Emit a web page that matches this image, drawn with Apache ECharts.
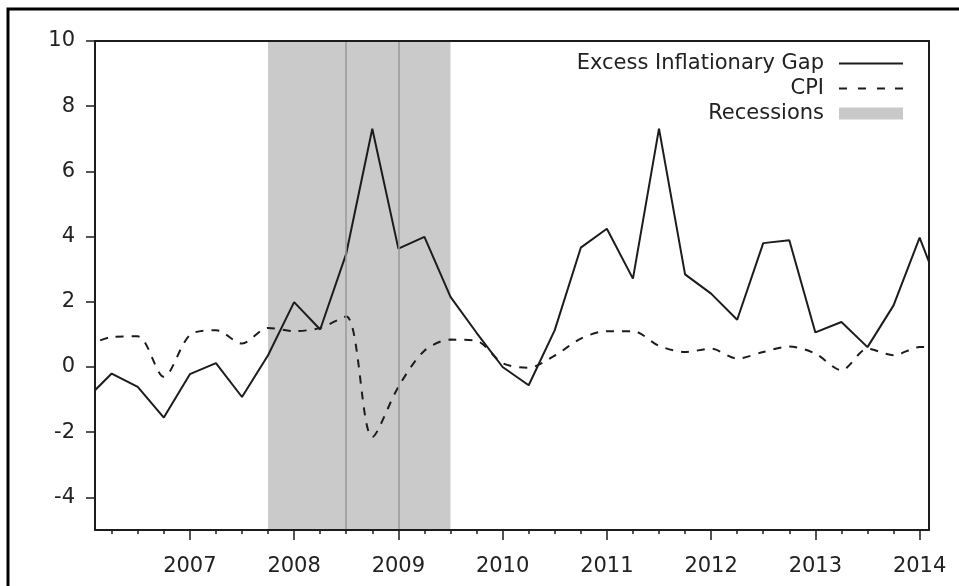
<!DOCTYPE html>
<html>
<head>
<meta charset="utf-8">
<script src="https://cdn.jsdelivr.net/npm/echarts@6/dist/echarts.min.js"></script>
<style>
  html, body { margin: 0; padding: 0; background: #fff; }
  #main { width: 959px; height: 586px; }
</style>
</head>
<body>
<div id="main"></div>
<script>
// quarterly dates (decimal years)
var quarters = [2006.0, 2006.25, 2006.5, 2006.75, 2007.0, 2007.25, 2007.5, 2007.75,
  2008.0, 2008.25, 2008.5, 2008.75, 2009.0, 2009.25, 2009.5, 2009.75,
  2010.0, 2010.25, 2010.5, 2010.75, 2011.0, 2011.25, 2011.5, 2011.75,
  2012.0, 2012.25, 2012.5, 2012.75, 2013.0, 2013.25, 2013.5, 2013.75,
  2014.0, 2014.25];

var gapValues = [-1.0, -0.20, -0.61, -1.55, -0.22, 0.12, -0.92, 0.36,
  1.99, 1.15, 3.48, 7.31, 3.63, 3.99, 2.15, 1.05,
  0.0, -0.56, 1.13, 3.66, 4.24, 2.71, 7.31, 2.84,
  2.25, 1.45, 3.80, 3.89, 1.06, 1.38, 0.61, 1.89,
  3.97, 1.9];

var cpiValues = [0.61, 0.92, 0.94, -0.30, 0.98, 1.13, 0.72, 1.2,
  1.1, 1.2, 1.55, -2.15, -0.61, 0.5, 0.84, 0.8,
  0.12, -0.02, 0.35, 0.87, 1.1, 1.1, 0.65, 0.46,
  0.56, 0.26, 0.46, 0.63, 0.41, -0.1, 0.56, 0.36,
  0.61, 0.61];

var recessions = [[2007.75, 2009.5]];
var recessionLines = [2008.5, 2009.0];

var yTicks = [-4, -2, 0, 2, 4, 6, 8, 10];
var yearTicks = [2007, 2008, 2009, 2010, 2011, 2012, 2013, 2014];
var quarterTicks = [2006.25, 2006.5, 2006.75, 2007, 2007.25, 2007.5, 2007.75,
  2008, 2008.25, 2008.5, 2008.75, 2009, 2009.25, 2009.5, 2009.75,
  2010, 2010.25, 2010.5, 2010.75, 2011, 2011.25, 2011.5, 2011.75,
  2012, 2012.25, 2012.5, 2012.75, 2013, 2013.25, 2013.5, 2013.75, 2014];

var xMin = 2006.09, xMax = 2014.09;
var font = 'DejaVu Sans';
var ink = '#1c1c1c';

// legend glyphs: a plain line and a dashed line
var solidIcon = 'path://M0,5h64v2h-64z';
var dashIcon = 'path://M0,5h8v2h-8z M19,5h8v2h-8z M38,5h8v2h-8z M56,5h8v2h-8z';

function pairs(xs, ys) {
    return xs.map(function (x, i) { return [x, ys[i]]; });
}

var chart = echarts.init(document.getElementById('main'));

chart.setOption({
    animation: false,
    backgroundColor: '#fff',
    graphic: [{
        type: 'rect',
        shape: { x: 8, y: 9, width: 1000, height: 700 },
        style: { fill: null, stroke: '#000', lineWidth: 3 },
        silent: true
    }],
    legend: {
        orient: 'vertical',
        right: 51,
        top: 48,
        align: 'right',
        itemWidth: 64,
        itemHeight: 12,
        itemGap: 4,
        selectedMode: false,
        itemStyle: { borderWidth: 0 },
        textStyle: { fontFamily: font, fontSize: 21, color: '#222', padding: [0, 10, 0, 0] },
        data: [
            { name: 'Excess Inflationary Gap', icon: solidIcon },
            { name: 'CPI', icon: dashIcon },
            { name: 'Recessions', icon: 'rect' }
        ]
    },
    grid: { left: 95, right: 30, top: 41, bottom: 56 },
    xAxis: [{
        type: 'value', min: xMin, max: xMax, position: 'bottom', z: 5,
        axisLine: { onZero: false, lineStyle: { color: ink, width: 2 } },
        axisTick: { show: true, length: 4, customValues: quarterTicks, lineStyle: { color: ink, width: 1.5 } },
        axisLabel: { show: false },
        splitLine: { show: false }
    }, {
        type: 'value', min: xMin, max: xMax, position: 'bottom', z: 5,
        axisLine: { show: false, onZero: false },
        axisTick: { show: true, length: 10, customValues: yearTicks, lineStyle: { color: ink, width: 1.5 } },
        axisLabel: { customValues: yearTicks, margin: 26, fontFamily: font, fontSize: 21, color: '#222',
            formatter: function (v) { return String(Math.round(v)); } },
        splitLine: { show: false }
    }, {
        type: 'value', min: xMin, max: xMax, position: 'top', z: 5,
        axisLine: { onZero: false, lineStyle: { color: ink, width: 2 } },
        axisTick: { show: false }, axisLabel: { show: false }, splitLine: { show: false }
    }],
    yAxis: [{
        type: 'value', min: -5, max: 10, position: 'left', z: 5,
        axisLine: { show: true, onZero: false, lineStyle: { color: ink, width: 2 } },
        axisTick: { show: true, length: 9, customValues: yTicks, lineStyle: { color: ink, width: 1.5 } },
        axisLabel: { customValues: yTicks, margin: 20, fontFamily: font, fontSize: 21, color: '#222' },
        splitLine: { show: false }
    }, {
        type: 'value', min: -5, max: 10, position: 'right', z: 5,
        axisLine: { show: true, onZero: false, lineStyle: { color: ink, width: 2 } },
        axisTick: { show: false }, axisLabel: { show: false }, splitLine: { show: false }
    }],
    series: [{
        name: 'Recessions',
        type: 'line',
        color: '#c9c9c9',
        data: [],
        z: 1,
        markArea: {
            silent: true,
            itemStyle: { color: '#cacaca' },
            data: recessions.map(function (r) { return [{ xAxis: r[0] }, { xAxis: r[1] }]; })
        },
        markLine: {
            silent: true,
            symbol: 'none',
            label: { show: false },
            lineStyle: { color: '#999', type: 'solid', width: 1.5 },
            data: recessionLines.map(function (x) { return { xAxis: x }; })
        }
    }, {
        name: 'Excess Inflationary Gap',
        type: 'line',
        color: ink,
        symbol: 'none',
        z: 3,
        lineStyle: { color: ink, width: 2 },
        data: pairs(quarters, gapValues)
    }, {
        name: 'CPI',
        type: 'line',
        color: ink,
        symbol: 'none',
        smooth: 0.3,
        z: 3,
        lineStyle: { color: ink, width: 2, type: [8, 8] },
        data: pairs(quarters, cpiValues)
    }]
});
</script>
</body>
</html>
